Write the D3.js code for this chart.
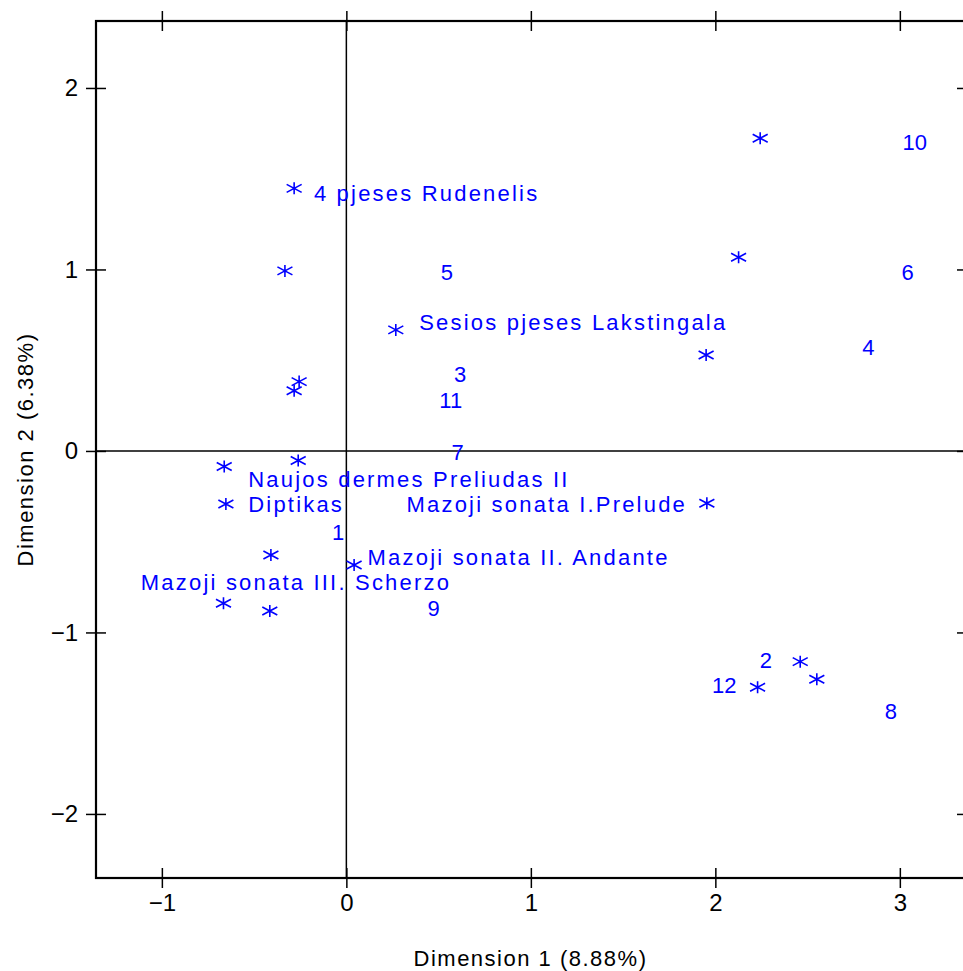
<!DOCTYPE html>
<html>
<head>
<meta charset="utf-8">
<script src="https://cdn.jsdelivr.net/npm/d3@7"></script>
<style>
  body { margin: 0; background: #fff; }
  text { font-family: "Liberation Sans", Arial, sans-serif; }
  .lbl { fill: #0000ff; font-size: 22px; }
  .name { letter-spacing: 2.2px; }
  .tick text { font-size: 24px; fill: #000; }
</style>
</head>
<body>
<div id="chart"></div>
<script>
// asterisk points (Dimension 1, Dimension 2)
var starX = [2.243, 2.126, 1.950, 1.954, 2.460, 2.550, 2.229,
             -0.283, -0.333, 0.268, -0.256, -0.283, -0.662, -0.261,
             -0.653, -0.409, 0.042, -0.666, -0.415];
var starY = [1.723, 1.067, 0.529, -0.288, -1.161, -1.258, -1.302,
             1.447, 0.992, 0.667, 0.382, 0.332, -0.086, -0.053,
             -0.292, -0.573, -0.628, -0.839, -0.882];

// number labels (centred)
var numText = ["10", "6", "4", "5", "3", "11", "7", "1", "9", "2", "12", "8"];
var numX = [3.081, 3.042, 2.830, 0.545, 0.617, 0.566, 0.603, -0.044, 0.473, 2.274, 2.048, 2.951];
var numY = [1.704, 0.988, 0.571, 0.988, 0.424, 0.281, -0.004, -0.445, -0.867, -1.152, -1.289, -1.436];

// name labels (left aligned)
var nameText = ["4 pjeses Rudenelis", "Sesios pjeses Lakstingala", "Naujos dermes Preliudas II",
                "Diptikas", "Mazoji sonata I.Prelude", "Mazoji sonata II. Andante",
                "Mazoji sonata III. Scherzo"];
var nameX = [-0.176, 0.395, -0.532, -0.532, 0.326, 0.115, -1.114];
var nameY = [1.419, 0.712, -0.153, -0.292, -0.292, -0.587, -0.722];

var xTicks = [-1, 0, 1, 2, 3];
var yTicks = [-2, -1, 0, 1, 2];

var margin = {top: 21, right: 0, bottom: 93, left: 96},
    width = 871,
    height = 857;

var svg = d3.select("#chart")
  .append("svg")
    .attr("width", 963)
    .attr("height", 971)
  .append("g")
    .attr("transform", `translate(${margin.left}, ${margin.top})`);

var x = d3.scaleLinear().domain([-1.357, 3.364]).range([0, width]);
var y = d3.scaleLinear().domain([-2.353, 2.369]).range([height, 0]);

// reference lines
svg.append("line")
  .attr("x1", x(0)).attr("x2", x(0)).attr("y1", 0).attr("y2", height)
  .attr("stroke", "#000").attr("stroke-width", 1.5);
svg.append("line")
  .attr("x1", 0).attr("x2", width).attr("y1", y(0)).attr("y2", y(0))
  .attr("stroke", "#000").attr("stroke-width", 1.5);

// frame
svg.append("rect")
  .attr("width", width).attr("height", height)
  .attr("fill", "none").attr("stroke", "#000").attr("stroke-width", 2.2);

// axes: ticks cross the frame
function styleAxis(g) {
  g.select(".domain").remove();
  g.selectAll(".tick line").attr("stroke", "#000").attr("stroke-width", 1.5);
}
svg.append("g")
  .attr("transform", `translate(0, ${height - 10})`)
  .call(d3.axisBottom(x).tickValues(xTicks).tickSize(20).tickPadding(6).tickFormat(d3.format("d")))
  .call(styleAxis);
svg.append("g")
  .attr("transform", `translate(0, 10)`)
  .call(d3.axisTop(x).tickValues(xTicks).tickSize(20).tickFormat(""))
  .call(styleAxis);
svg.append("g")
  .attr("transform", `translate(10, 0)`)
  .call(d3.axisLeft(y).tickValues(yTicks).tickSize(20).tickPadding(8).tickFormat(d3.format("d")))
  .call(styleAxis);
svg.append("g")
  .attr("transform", `translate(${width - 10}, 0)`)
  .call(d3.axisRight(y).tickValues(yTicks).tickSize(20).tickFormat(""))
  .call(styleAxis);

// axis titles
svg.append("text")
  .attr("x", width / 2 - 1).attr("y", height + 88)
  .attr("text-anchor", "middle")
  .style("font-size", "22px").style("letter-spacing", "1.5px")
  .text("Dimension 1 (8.88%)");
svg.append("text")
  .attr("transform", `translate(-63, ${height / 2}) rotate(-90)`)
  .attr("text-anchor", "middle")
  .style("font-size", "22px").style("letter-spacing", "1.5px")
  .text("Dimension 2 (6.38%)");

// asterisk marker
var star = "M0,-6L0,6M-7.5,-4L7.5,4M-7.5,4L7.5,-4";
svg.selectAll("path.star")
  .data(starX.map((d, i) => ({x: d, y: starY[i]})))
  .join("path")
    .attr("class", "star")
    .attr("d", star)
    .attr("transform", d => `translate(${x(d.x)}, ${y(d.y)})`)
    .attr("stroke", "#0000ff").attr("stroke-width", 1.6).attr("fill", "none");

svg.selectAll("text.num")
  .data(numText.map((d, i) => ({t: d, x: numX[i], y: numY[i]})))
  .join("text")
    .attr("class", "lbl num")
    .attr("x", d => x(d.x)).attr("y", d => y(d.y))
    .attr("dy", "0.36em")
    .attr("text-anchor", "middle")
    .text(d => d.t);

svg.selectAll("text.name")
  .data(nameText.map((d, i) => ({t: d, x: nameX[i], y: nameY[i]})))
  .join("text")
    .attr("class", "lbl name")
    .attr("x", d => x(d.x)).attr("y", d => y(d.y))
    .attr("dy", "0.36em")
    .text(d => d.t);
</script>
</body>
</html>
